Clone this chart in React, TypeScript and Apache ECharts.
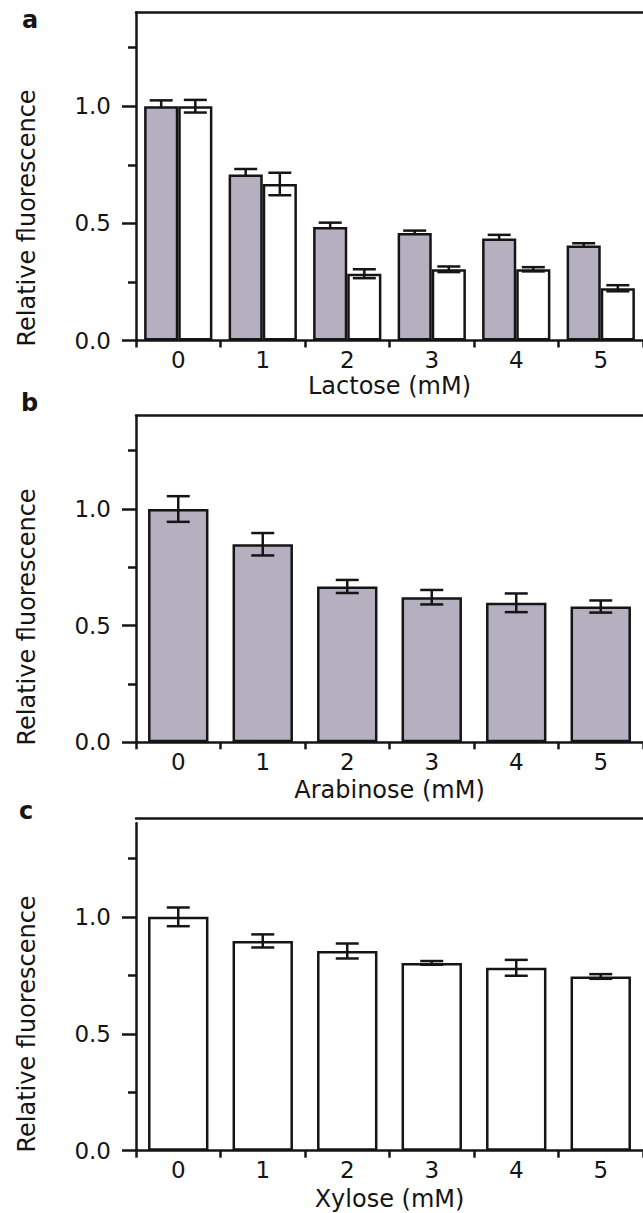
import React, { useEffect, useRef } from 'react';
import * as echarts from 'echarts';

// ---------- data ----------
const categories = ['0', '1', '2', '3', '4', '5'];

const lactoseGray = [1.0, 0.709, 0.484, 0.459, 0.435, 0.405];
const lactoseGrayErr = [0.025, 0.023, 0.019, 0.01, 0.016, 0.01];
const lactoseWhite = [1.0, 0.668, 0.285, 0.304, 0.304, 0.223];
const lactoseWhiteErr = [0.027, 0.048, 0.019, 0.012, 0.009, 0.013];

const arabinose = [1.0, 0.849, 0.668, 0.622, 0.598, 0.582];
const arabinoseErr = [0.055, 0.048, 0.028, 0.031, 0.04, 0.026];

const xylose = [1.0, 0.897, 0.854, 0.803, 0.782, 0.745];
const xyloseErr = [0.04, 0.028, 0.032, 0.008, 0.034, 0.01];

const majorTicks = [0, 0.5, 1.0];
const minorTicks = [0.25, 0.75, 1.25];
const yMin = 0;
const yMax = 1.4;

const xNames = ['Lactose (mM)', 'Arabinose (mM)', 'Xylose (mM)'];
const panelLetters = ['a', 'b', 'c'];
const yName = 'Relative fluorescence';

// ---------- styles ----------
const FONT = 'DejaVu Sans';
const INK = '#151515';
const GRAY = '#b5afc0';
const LW = 2.5;

const grids = [
  { left: 136, top: 12.5, height: 328, width: 512 },
  { left: 136, top: 415.7, height: 326.6, width: 512 },
  { left: 136, top: 823.3, height: 327.4, width: 512 },
];
const topOffsets = [0, 0, 5];
const nameGaps = [33, 36, 36];
const yNamePos = [
  { x: 27, y: 218 },
  { x: 27, y: 617 },
  { x: 27, y: 1024 },
];
const letterPos = [
  { x: 22, y: 32 },
  { x: 21, y: 415 },
  { x: 19, y: 823 },
];

function errorSeries(k: number, values: number[], errs: number[], offsetFrac: number, z: number) {
  return {
    type: 'custom',
    xAxisIndex: k * 2,
    yAxisIndex: k * 2,
    z,
    clip: false,
    encode: { x: 0, y: 1 },
    data: values.map((v, i) => [i, v, errs[i]]),
    renderItem: (params: any, api: any) => {
      const i = api.value(0);
      const v = api.value(1);
      const e = api.value(2);
      const band = api.size([1, 0])[0];
      const c = api.coord([i, v]);
      const x = c[0] + offsetFrac * band;
      const yTop = api.coord([i, v + e])[1];
      const yBot = api.coord([i, v - e])[1];
      const hw = 11.5;
      const style = { stroke: INK, lineWidth: LW, fill: 'none' };
      return {
        type: 'group',
        children: [
          { type: 'line', shape: { x1: x, y1: yTop, x2: x, y2: yBot }, style },
          { type: 'line', shape: { x1: x - hw, y1: yTop, x2: x + hw, y2: yTop }, style },
          { type: 'line', shape: { x1: x - hw, y1: yBot, x2: x + hw, y2: yBot }, style },
        ],
      };
    },
  };
}

function buildOption() {
  const xAxis: any[] = [];
  const yAxis: any[] = [];
  grids.forEach((g, k) => {
    xAxis.push({
      type: 'category',
      gridIndex: k,
      data: categories,
      position: 'bottom',
      name: xNames[k],
      nameLocation: 'middle',
      nameGap: nameGaps[k],
      nameTextStyle: { fontFamily: FONT, fontSize: 24, color: INK },
      axisLine: { show: true, onZero: false, lineStyle: { color: INK, width: LW } },
      axisTick: { show: true, length: 7, lineStyle: { color: INK, width: LW } },
      axisLabel: { fontFamily: FONT, fontSize: 23, color: INK, margin: 8 },
      splitLine: { show: false },
    });
    xAxis.push({
      type: 'category',
      gridIndex: k,
      data: categories,
      position: 'top',
      offset: topOffsets[k],
      axisLine: { show: true, onZero: false, lineStyle: { color: INK, width: LW } },
      axisTick: { show: false },
      axisLabel: { show: false },
      splitLine: { show: false },
    });
    yAxis.push({
      type: 'value',
      gridIndex: k,
      min: yMin,
      max: yMax,
      position: 'left',
      axisLine: { show: true, onZero: false, lineStyle: { color: INK, width: LW } },
      axisTick: { show: true, length: 14, customValues: majorTicks, lineStyle: { color: INK, width: LW } },
      axisLabel: {
        customValues: majorTicks,
        fontFamily: FONT,
        fontSize: 23,
        color: INK,
        margin: 25,
        formatter: (v: number) => v.toFixed(1),
      },
      splitLine: { show: false },
    });
    yAxis.push({
      type: 'value',
      gridIndex: k,
      min: yMin,
      max: yMax,
      position: 'left',
      axisLine: { show: false, onZero: false },
      axisTick: { show: true, length: 8, customValues: minorTicks, lineStyle: { color: INK, width: LW } },
      axisLabel: { show: false, customValues: minorTicks },
      splitLine: { show: false },
    });
  });

  const barStyle = (color: string) => ({ color, borderColor: INK, borderWidth: LW });

  const series: any[] = [
    {
      type: 'bar',
      xAxisIndex: 0,
      yAxisIndex: 0,
      data: lactoseGray,
      barWidth: '40.4%',
      barGap: '0%',
      z: 2,
      itemStyle: barStyle(GRAY),
    },
    {
      type: 'bar',
      xAxisIndex: 0,
      yAxisIndex: 0,
      data: lactoseWhite,
      barWidth: '40.4%',
      barGap: '0%',
      z: 2,
      itemStyle: barStyle('#ffffff'),
    },
    errorSeries(0, lactoseGray, lactoseGrayErr, -0.202, 1),
    errorSeries(0, lactoseWhite, lactoseWhiteErr, 0.202, 3),
    {
      type: 'bar',
      xAxisIndex: 2,
      yAxisIndex: 2,
      data: arabinose,
      barWidth: '71.5%',
      z: 2,
      itemStyle: barStyle(GRAY),
    },
    errorSeries(1, arabinose, arabinoseErr, 0, 3),
    {
      type: 'bar',
      xAxisIndex: 4,
      yAxisIndex: 4,
      data: xylose,
      barWidth: '71.5%',
      z: 2,
      itemStyle: barStyle('#ffffff'),
    },
    errorSeries(2, xylose, xyloseErr, 0, 3),
  ];

  const graphic: any[] = [];
  yNamePos.forEach((p) => {
    graphic.push({
      type: 'text',
      x: p.x,
      y: p.y,
      rotation: Math.PI / 2,
      style: {
        text: yName,
        fontFamily: FONT,
        fontSize: 24,
        fill: INK,
        align: 'center',
        verticalAlign: 'middle',
      },
    });
  });
  letterPos.forEach((p, k) => {
    graphic.push({
      type: 'text',
      x: p.x,
      y: p.y,
      style: {
        text: panelLetters[k],
        fontFamily: FONT,
        fontSize: 24,
        fontWeight: 'bold',
        fill: INK,
        align: 'left',
        verticalAlign: 'bottom',
      },
    });
  });

  return {
    animation: false,
    backgroundColor: '#ffffff',
    grid: grids.map((g) => ({ ...g, containLabel: false })),
    xAxis,
    yAxis,
    series,
    graphic,
  };
}

export default function App() {
  const ref = useRef<HTMLDivElement>(null);
  useEffect(() => {
    if (!ref.current) return;
    const chart = echarts.init(ref.current, undefined, { renderer: 'svg' });
    chart.setOption(buildOption() as any);
    return () => chart.dispose();
  }, []);
  return (
    <div
      ref={ref}
      style={{ position: 'absolute', left: 0, top: 0, width: 643, height: 1213, background: '#fff' }}
    />
  );
}
